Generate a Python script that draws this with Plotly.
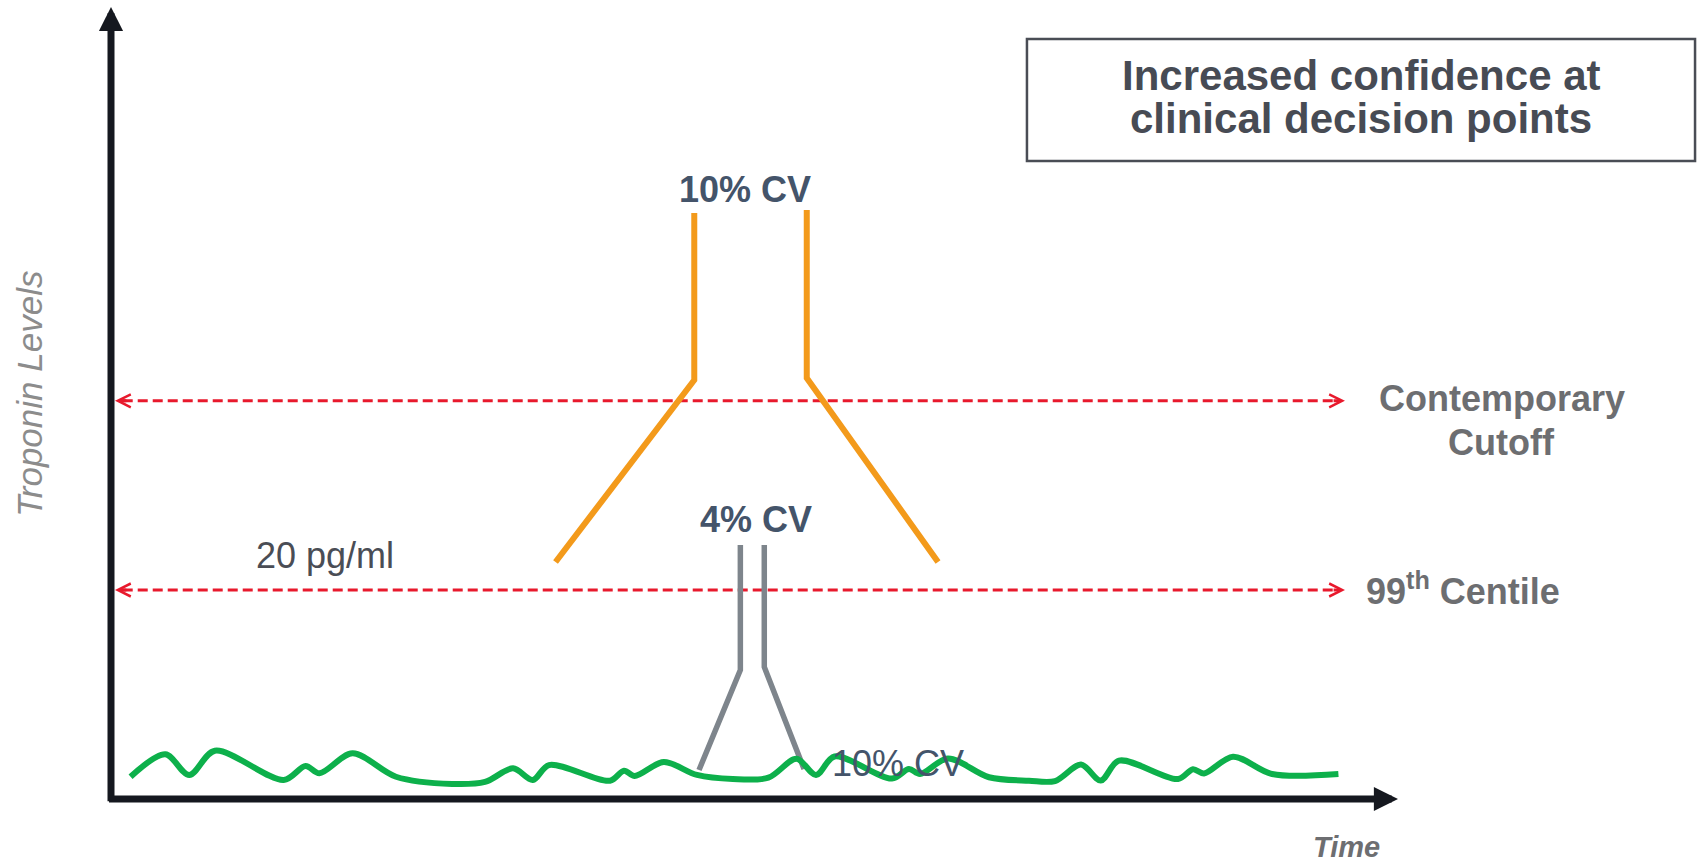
import plotly.graph_objects as go

# Axes: time in arbitrary units (arrow tip at 100), troponin in pg/ml
TIME_END = 100.0
TROP_TOP = 75.8

# Baseline troponin in a healthy population (wavy noise near zero)
noise_t = [1.52, 4.22, 6.08, 8.07, 13.42, 15.12, 16.19, 18.77, 22.14, 26.50,
           29.06, 31.24, 32.77, 34.03, 38.77, 39.86, 40.69, 42.95, 45.53, 48.31,
           51.08, 53.26, 54.78, 56.22, 60.68, 62.00, 62.86, 65.03, 68.22, 71.33,
           73.35, 75.37, 76.90, 78.32, 82.91, 84.07, 84.93, 87.18, 90.21, 95.37]
noise_v = [2.13, 4.28, 2.30, 4.62, 1.82, 3.16, 2.46, 4.37, 2.13, 1.44,
           1.63, 2.94, 1.82, 3.25, 1.75, 2.71, 2.20, 3.54, 2.30, 1.91,
           2.04, 3.85, 2.30, 4.07, 1.96, 2.87, 2.39, 3.88, 2.08, 1.75,
           1.72, 3.30, 1.77, 3.67, 1.91, 2.85, 2.44, 4.05, 2.39, 2.39]

# Decision thresholds (pg/ml)
contemporary_cutoff = 38.1
centile_99 = 20.0
cutoff_t = [0.31, 95.88]

# Imprecision funnels: contemporary assay (10% CV) and high-sensitivity assay (4% CV)
cv10_left_t = [34.54, 45.32, 45.32]
cv10_left_v = [22.68, 40.10, 56.08]
cv10_right_t = [54.06, 54.06, 64.26]
cv10_right_v = [56.36, 40.29, 22.68]

cv4_left_t = [45.69, 48.90, 48.90]
cv4_left_v = [2.78, 12.34, 24.31]
cv4_right_t = [50.76, 50.76, 53.85]
cv4_right_v = [24.31, 12.63, 2.87]

RED = "#e8192c"
ORANGE = "#f39a1b"
GREY_FUNNEL = "#7e858c"
GREEN = "#0db04b"
AXIS = "#15181f"
SLATE = "#44546a"
LABEL_GREY = "#6d6e71"
FONT = "Liberation Sans, Arial, sans-serif"

fig = go.Figure()

for level in (contemporary_cutoff, centile_99):
    fig.add_trace(go.Scatter(
        x=[cutoff_t[0] + 0.6, cutoff_t[1] - 0.6], y=[level, level],
        mode="lines", line=dict(color=RED, width=3, dash="10px,5px"),
        hoverinfo="skip"))

for tx, ty in ((cv10_left_t, cv10_left_v), (cv10_right_t, cv10_right_v)):
    fig.add_trace(go.Scatter(x=tx, y=ty, mode="lines",
                             line=dict(color=ORANGE, width=6), hoverinfo="skip"))

for tx, ty in ((cv4_left_t, cv4_left_v), (cv4_right_t, cv4_right_v)):
    fig.add_trace(go.Scatter(x=tx, y=ty, mode="lines",
                             line=dict(color=GREY_FUNNEL, width=5.5), hoverinfo="skip"))

fig.add_trace(go.Scatter(x=noise_t, y=noise_v, mode="lines",
                         line=dict(color=GREEN, width=6, shape="spline", smoothing=0.9),
                         hoverinfo="skip"))

annotations = []

# Axis arrows
annotations.append(dict(x=0, y=TROP_TOP, ax=0, ay=-0.35, xref="x", yref="y",
                        axref="x", ayref="y", showarrow=True, arrowhead=2,
                        arrowsize=0.69, arrowwidth=7, arrowcolor=AXIS, text=""))
annotations.append(dict(x=TIME_END, y=0, ax=-0.27, ay=0, xref="x", yref="y",
                        axref="x", ayref="y", showarrow=True, arrowhead=2,
                        arrowsize=0.69, arrowwidth=7, arrowcolor=AXIS, text=""))

# Arrowheads on both ends of the threshold lines
for level in (contemporary_cutoff, centile_99):
    annotations.append(dict(x=cutoff_t[0], y=level, ax=cutoff_t[0] + 1.0, ay=level,
                            xref="x", yref="y", axref="x", ayref="y", showarrow=True,
                            arrowhead=5, arrowsize=0.85, arrowwidth=3,
                            arrowcolor=RED, text=""))
    annotations.append(dict(x=cutoff_t[1], y=level, ax=cutoff_t[1] - 1.0, ay=level,
                            xref="x", yref="y", axref="x", ayref="y", showarrow=True,
                            arrowhead=5, arrowsize=0.85, arrowwidth=3,
                            arrowcolor=RED, text=""))


def label(text, x, y, size, color, bold=False, italic=False, xanchor="center",
          angle=0):
    t = f"<b>{text}</b>" if bold else text
    t = f"<i>{t}</i>" if italic else t
    return dict(x=x, y=y, xref="x", yref="y", text=t, showarrow=False,
                xanchor=xanchor, yanchor="middle", textangle=angle,
                font=dict(family=FONT, size=size, color=color))


annotations += [
    label("10% CV", 49.30, 58.37, 36, SLATE, bold=True),
    label("4% CV", 50.08, 26.79, 36, SLATE, bold=True),
    label("10% CV", 61.15, 3.44, 36, SLATE),
    label("20 pg/ml", 16.59, 23.30, 36, "#4a4d55"),
    label("Contemporary", 108.08, 38.28, 36, LABEL_GREY, bold=True),
    label("Cutoff", 108.08, 34.16, 36, LABEL_GREY, bold=True),
    label("99<sup>th</sup> Centile", 97.36, 20.10, 36, LABEL_GREY, bold=True,
          xanchor="left"),
    label("Time", 95.96, -4.55, 29, LABEL_GREY, bold=True, italic=True),
    label("Troponin Levels", -6.29, 38.76, 35, "#8c8c8c", italic=True, angle=-90),
    label("Increased confidence at", 97.13, 69.28, 42, "#474b54", bold=True),
    label("clinical decision points", 97.13, 65.12, 42, "#474b54", bold=True),
]

fig.add_shape(type="rect", xref="x", yref="y", x0=71.17, x1=123.08, y0=61.05, y1=72.73,
              line=dict(color="#4a4d55", width=2.5), fillcolor="rgba(0,0,0,0)")

fig.update_layout(
    width=1698, height=862,
    margin=dict(l=0, r=0, t=0, b=0),
    paper_bgcolor="white", plot_bgcolor="white",
    showlegend=False,
    xaxis=dict(range=[-8.625, 123.31], visible=False, fixedrange=True),
    yaxis=dict(range=[-6.029, 76.46], visible=False, fixedrange=True),
    annotations=annotations,
)

fig.write_html("out.html")
